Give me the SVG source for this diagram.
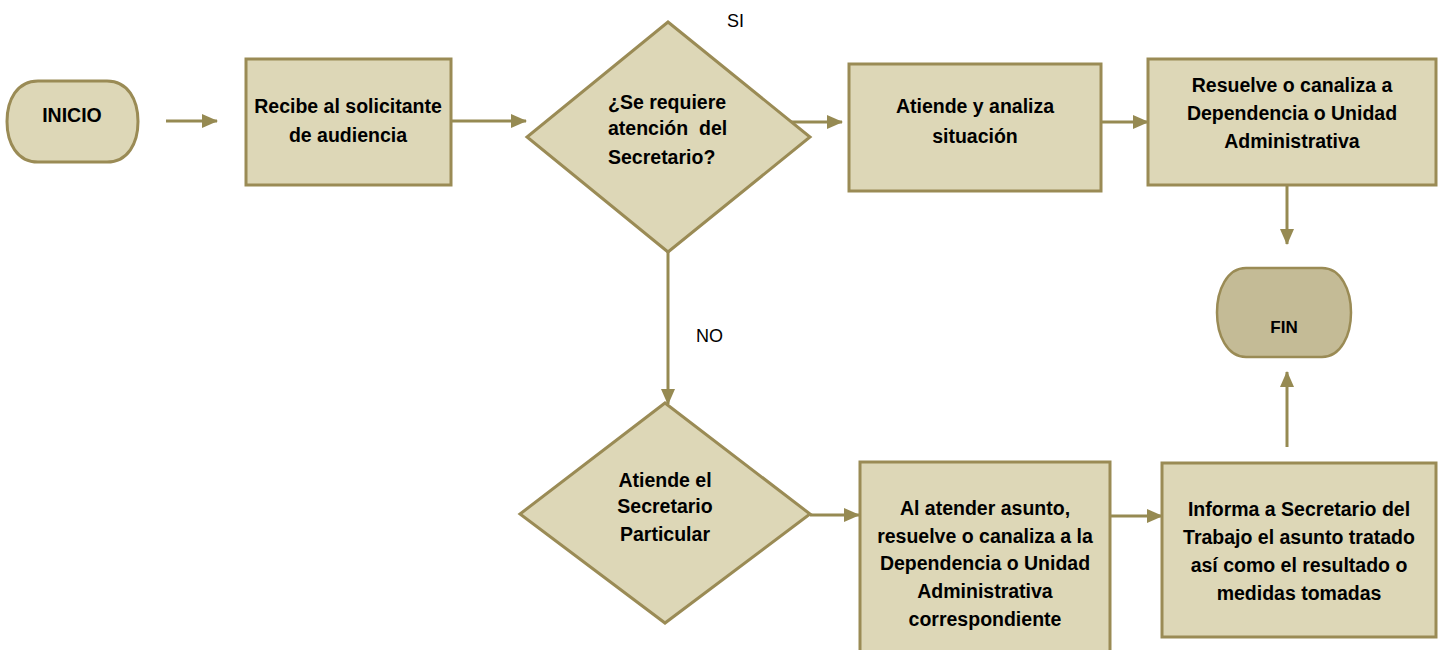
<svg xmlns="http://www.w3.org/2000/svg" width="1442" height="650" viewBox="0 0 1442 650">
<defs>
<style>
.n{fill:#ddd7b7;stroke:#9a8b55;stroke-width:3}
.f{fill:#c4bb96;stroke:#9a8b55;stroke-width:2.5}
.t{font-family:"Liberation Sans",Arial,sans-serif;font-weight:bold;font-size:19.5px;fill:#000;text-anchor:middle}
.l{font-family:"Liberation Sans",Arial,sans-serif;font-size:18px;fill:#000}
.c{stroke:#968a52;stroke-width:3;fill:none;marker-end:url(#a)}
</style>
<marker id="a" markerWidth="16" markerHeight="14" refX="15" refY="7" orient="auto" markerUnits="userSpaceOnUse" viewBox="0 0 16 14">
<path d="M0,0 L16,7 L0,14 Z" fill="#968a52"/>
</marker>
</defs>
<g id="connectors">
<path class="c" d="M166,121 H217"/>
<path class="c" d="M451,121 H526"/>
<path class="c" d="M791,122 H842"/>
<path class="c" d="M1101,122 H1148"/>
<path class="c" d="M1287,185 V244"/>
<path class="c" d="M668,252 V404"/>
<path class="c" d="M810,515 H859"/>
<path class="c" d="M1110,516 H1162"/>
<path class="c" d="M1287,447 V372"/>
</g>
<g id="inicio">
<path class="n" d="M38,81 H107 C128,81 138,100 138,121.5 C138,143 128,162 107,162 H38 C17,162 7,143 7,121.5 C7,100 17,81 38,81 Z"/>
<text class="t" x="72" y="122">INICIO</text>
</g>
<g id="recibe">
<rect class="n" x="246" y="59" width="205" height="126"/>
<text class="t" x="348" y="113">Recibe al solicitante</text>
<text class="t" x="348" y="142">de audiencia</text>
</g>
<g id="decision1">
<polygon class="n" points="668,22 810,137 668,252 527,137"/>
<text class="t" x="608" y="109" style="text-anchor:start">¿Se requiere</text>
<text class="t" x="608" y="135" style="text-anchor:start;white-space:pre" xml:space="preserve">atención  del</text>
<text class="t" x="608" y="164" style="text-anchor:start">Secretario?</text>
</g>
<text class="l" x="727" y="27">SI</text>
<text class="l" x="696" y="342">NO</text>
<g id="atiende">
<rect class="n" x="849" y="64" width="252" height="127"/>
<text class="t" x="975" y="113">Atiende y analiza</text>
<text class="t" x="975" y="143">situación</text>
</g>
<g id="resuelve">
<rect class="n" x="1148" y="59" width="288" height="126"/>
<text class="t" x="1292" y="92">Resuelve o canaliza a</text>
<text class="t" x="1292" y="120">Dependencia o Unidad</text>
<text class="t" x="1292" y="148">Administrativa</text>
</g>
<g id="fin">
<path class="f" d="M1246,268 H1322 C1341,268 1351,290 1351,312.5 C1351,335 1341,357 1322,357 H1246 C1227,357 1217,335 1217,312.5 C1217,290 1227,268 1246,268 Z"/>
<text class="t" x="1284" y="333" style="font-size:17px">FIN</text>
</g>
<g id="decision2">
<polygon class="n" points="665,403 810,514 665,623 520,514"/>
<text class="t" x="665" y="487">Atiende el</text>
<text class="t" x="665" y="513">Secretario</text>
<text class="t" x="665" y="541">Particular</text>
</g>
<g id="alatender">
<rect class="n" x="860" y="462" width="250" height="190"/>
<text class="t" x="985" y="515">Al atender asunto,</text>
<text class="t" x="985" y="543">resuelve o canaliza a la</text>
<text class="t" x="985" y="570">Dependencia o Unidad</text>
<text class="t" x="985" y="598">Administrativa</text>
<text class="t" x="985" y="626">correspondiente</text>
</g>
<g id="informa">
<rect class="n" x="1162" y="463" width="274" height="174"/>
<text class="t" x="1299" y="516">Informa a Secretario del</text>
<text class="t" x="1299" y="544">Trabajo el asunto tratado</text>
<text class="t" x="1299" y="572">así como el resultado o</text>
<text class="t" x="1299" y="600">medidas tomadas</text>
</g>
</svg>
